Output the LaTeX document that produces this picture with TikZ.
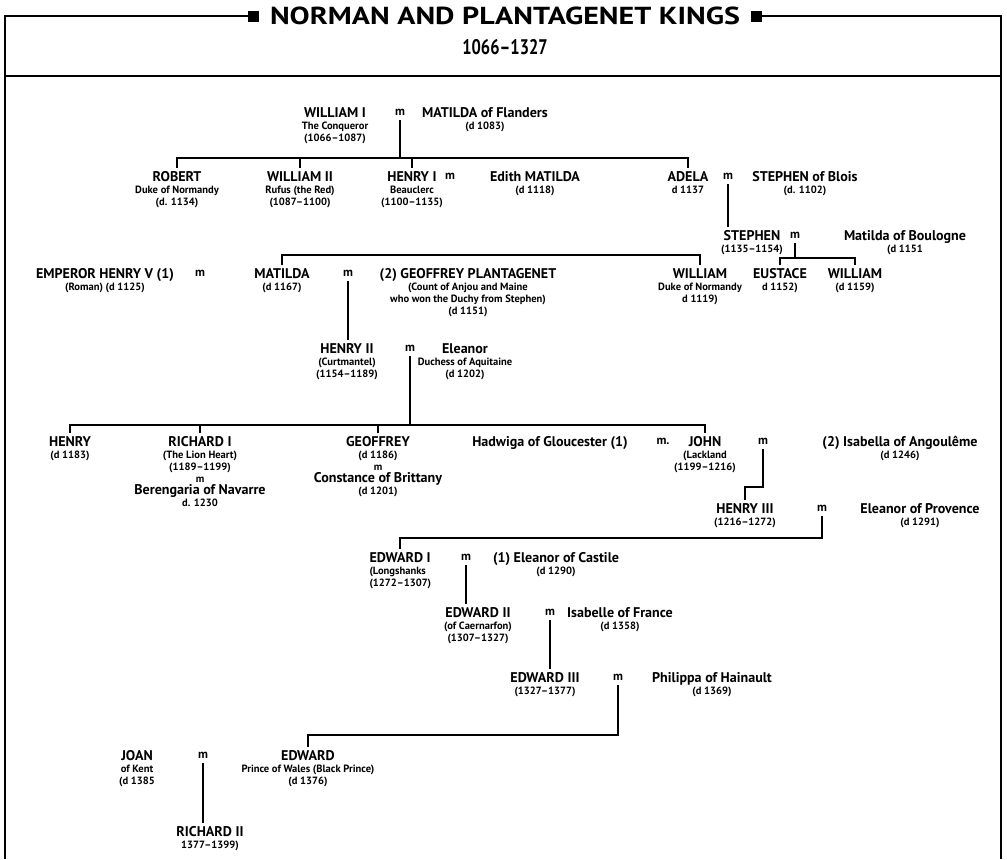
\documentclass[tikz,border=0pt]{standalone}
\usepackage{fontspec}
\setmainfont{PT Sans}
\usetikzlibrary{positioning,calc}

\newcommand{\nm}[1]{{\fontsize{8pt}{8.5pt}\selectfont #1}}

\begin{document}
\begin{tikzpicture}[x=0.02cm, y=-0.02cm,
    person/.style={align=center, anchor=north, inner sep=0pt, outer sep=2pt, font=\fontsize{6pt}{6.8pt}\selectfont\bfseries},
    wed/.style={inner sep=0pt, outer sep=3pt, font=\fontsize{7pt}{8pt}\selectfont\bfseries},
    line/.style={line width=1.3pt},
    frame/.style={line width=1.2pt}]

\useasboundingbox (0,0) rectangle (1007,859);

% title band
\node[font=\fontsize{14pt}{16pt}\selectfont\bfseries] (title) at (505,16) {\scalebox{1.22}[1]{NORMAN AND PLANTAGENET KINGS}};
\node[fill=black, minimum size=0.22cm, inner sep=0pt, left=0.08cm of title] (sqL) {};
\node[fill=black, minimum size=0.22cm, inner sep=0pt, right=0.08cm of title] (sqR) {};
\node[font=\fontsize{12pt}{14pt}\selectfont\bfseries] (years) at (505,47) {\scalebox{0.78}[1]{1066--1327}};
\draw[frame] (sqL.west) -| (5,859);
\draw[frame] (sqR.east) -| (1001,859);
\draw[line width=1.6pt] (5,76) -- (1001,76);

% William I
\node[person] (william1) at (335,104) {\nm{WILLIAM I}\\The Conqueror\\(1066--1087)};
\node[wed] (m1) at (400,112) {m};
\node[person] (matildaF) at (485,104) {\nm{MATILDA of Flanders}\\(d 1083)};
\coordinate (bar1) at (400,158);

\node[person] (robert) at (177,168) {\nm{ROBERT}\\Duke of Normandy\\(d. 1134)};
\node[person] (william2) at (300,168) {\nm{WILLIAM II}\\Rufus (the Red)\\(1087--1100)};
\node[person] (henry1) at (412,168) {\nm{HENRY I}\\Beauclerc\\(1100--1135)};
\node[wed] (m2) at (450,176) {m};
\node[person] (edith) at (535,168) {\nm{Edith MATILDA}\\(d 1118)};
\node[person] (adela) at (688,168) {\nm{ADELA}\\d 1137};
\node[wed] (m3) at (728,176) {m};
\node[person] (stephenB) at (805,168) {\nm{STEPHEN of Blois}\\(d. 1102)};

\draw[line] (m1.south) -- (m1.south |- bar1);
\draw[line] (robert.north) -- (robert.north |- bar1) -- (adela.north |- bar1) -- (adela.north);
\draw[line] (william2.north) -- (william2.north |- bar1);
\draw[line] (henry1.north) -- (henry1.north |- bar1);

% Stephen
\node[person] (stephen) at (752,227) {\nm{STEPHEN}\\(1135--1154)};
\node[wed] (m4) at (795,235) {m};
\node[person] (matildaB) at (905,227) {\nm{Matilda of Boulogne}\\(d 1151};
\draw[line] (m3.south) -- (m3.south |- stephen.north);
\coordinate (bar3) at (795,258);

% children of Henry I and Stephen
\coordinate (bar4) at (450,255);
\node[person] (henry5) at (105,265) {\nm{EMPEROR HENRY V (1)}\\(Roman) (d 1125)};
\node[wed] (m5) at (200,273) {m};
\node[person] (matilda) at (282,265) {\nm{MATILDA}\\(d 1167)};
\node[wed] (m6) at (348,273) {m};
\node[person] (geoffrey) at (468,265) {\nm{(2) GEOFFREY PLANTAGENET}\\(Count of Anjou and Maine\\who won the Duchy from Stephen)\\(d 1151)};
\node[person] (williamN) at (700,265) {\nm{WILLIAM}\\Duke of Normandy\\d 1119)};
\node[person] (eustace) at (780,265) {\nm{EUSTACE}\\d 1152)};
\node[person] (williamS) at (855,265) {\nm{WILLIAM}\\(d 1159)};

\draw[line] (matilda.north) -- (matilda.north |- bar4) -- (williamN.north |- bar4) -- (williamN.north);
\draw[line] (m4.south) -- (m4.south |- bar3);
\draw[line] (eustace.north) -- (eustace.north |- bar3) -- (williamS.north |- bar3) -- (williamS.north);

% Henry II
\node[person] (henry2) at (347,340) {\nm{HENRY II}\\(Curtmantel)\\(1154--1189)};
\node[wed] (m7) at (410,348) {m};
\node[person] (eleanorA) at (465,340) {\nm{Eleanor}\\Duchess of Aquitaine\\(d 1202)};
\draw[line] (m6.south) -- (m6.south |- henry2.north);
\coordinate (bar6) at (410,425);

\node[person] (henry) at (70,433) {\nm{HENRY}\\(d 1183)};
\node[person] (richard1) at (200,433) {\nm{RICHARD I}\\(The Lion Heart)\\(1189--1199)\\m\\\nm{Berengaria of Navarre}\\d. 1230};
\node[person] (geoffrey2) at (378,433) {\nm{GEOFFREY}\\(d 1186)\\m\\\nm{Constance of Brittany}\\(d 1201)};
\node[person] (hadwiga) at (550,433) {\nm{Hadwiga of Gloucester (1)}};
\node[wed] (m8) at (663,441) {m.};
\node[person] (john) at (705,433) {\nm{JOHN}\\(Lackland\\(1199--1216)};
\node[wed] (m9) at (763,441) {m};
\node[person] (isabella) at (900,433) {\nm{(2) Isabella of Angoulême}\\(d 1246)};

\draw[line] (m7.south) -- (m7.south |- bar6);
\draw[line] (henry.north) -- (henry.north |- bar6) -- (john.north |- bar6) -- (john.north);
\draw[line] (richard1.north) -- (richard1.north |- bar6);
\draw[line] (geoffrey2.north) -- (geoffrey2.north |- bar6);

% Henry III
\coordinate (bar7) at (763,487);
\node[person] (henry3) at (745,500) {\nm{HENRY III}\\(1216--1272)};
\node[wed] (m10) at (822,508) {m};
\node[person] (eleanorP) at (920,500) {\nm{Eleanor of Provence}\\(d 1291)};
\draw[line] (m9.south) -- (m9.south |- bar7) -- (henry3.north |- bar7) -- (henry3.north);
\coordinate (bar8) at (822,538);

% Edward I, II, III
\node[person, align=left, anchor=north west] (edward1) at (366,549) {\nm{EDWARD I}\\(Longshanks\\(1272--1307)};
\node[wed] (m11) at (466,557) {m};
\node[person] (eleanorC) at (556,549) {\nm{(1) Eleanor of Castile}\\(d 1290)};
\draw[line] (m10.south) -- (m10.south |- bar8) -- (edward1.north |- bar8) -- (edward1.north);

\node[person] (edward2) at (478,604) {\nm{EDWARD II}\\(of Caernarfon)\\(1307--1327)};
\node[wed] (m12) at (550,612) {m};
\node[person] (isabelle) at (620,604) {\nm{Isabelle of France}\\(d 1358)};
\draw[line] (m11.south) -- (m11.south |- edward2.north);

\node[person] (edward3) at (545,669) {\nm{EDWARD III}\\(1327--1377)};
\node[wed] (m13) at (618,677) {m};
\node[person] (philippa) at (712,669) {\nm{Philippa of Hainault}\\(d 1369)};
\draw[line] (m12.south) -- (m12.south |- edward3.north);
\coordinate (bar10) at (618,735);

% Black Prince and Richard II
\node[person] (joan) at (137,747) {\nm{JOAN}\\of Kent\\(d 1385};
\node[wed] (m14) at (203,755) {m};
\node[person] (edward) at (308,747) {\nm{EDWARD}\\Prince of Wales (Black Prince)\\(d 1376)};
\draw[line] (m13.south) -- (m13.south |- bar10) -- (edward.north |- bar10) -- (edward.north);

\node[person] (richard2) at (210,823) {\nm{RICHARD II}\\1377--1399)};
\draw[line] (m14.south) -- (m14.south |- richard2.north);

\end{tikzpicture}
\end{document}
